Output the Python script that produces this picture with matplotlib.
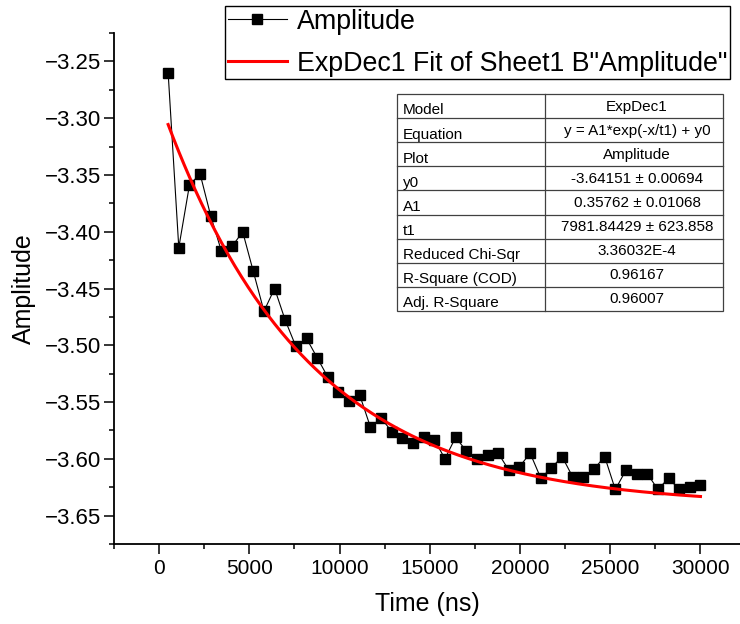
import matplotlib
matplotlib.use("Agg")
import matplotlib.pyplot as plt
import numpy as np
from matplotlib.lines import Line2D

plt.rcParams['font.family'] = ['Liberation Sans', 'DejaVu Sans']

# ---- data ----
time_ns = [500, 1090, 1680, 2270, 2860, 3450, 4040, 4630, 5220, 5810,
           6400, 6990, 7580, 8170, 8760, 9350, 9940, 10530, 11120, 11710,
           12300, 12890, 13480, 14070, 14660, 15250, 15840, 16430, 17020, 17610,
           18200, 18790, 19380, 19970, 20560, 21150, 21740, 22330, 22920, 23510,
           24100, 24690, 25280, 25870, 26460, 27050, 27640, 28230, 28820, 29410,
           30000]
amplitude = [-3.260, -3.414, -3.359, -3.349, -3.386, -3.417, -3.413, -3.400, -3.435, -3.470,
             -3.450, -3.478, -3.501, -3.494, -3.511, -3.528, -3.541, -3.549, -3.544, -3.572,
             -3.564, -3.576, -3.582, -3.586, -3.581, -3.583, -3.600, -3.581, -3.593, -3.600,
             -3.597, -3.595, -3.610, -3.607, -3.595, -3.617, -3.608, -3.598, -3.616, -3.616,
             -3.609, -3.598, -3.627, -3.610, -3.613, -3.613, -3.627, -3.617, -3.627, -3.625,
             -3.623]

# fit parameters (ExpDec1)
y0 = -3.64151
A1 = 0.35762
t1 = 7981.84429
fit_range = (500, 30000)

table_labels = ["Model", "Equation", "Plot", "y0", "A1", "t1",
                "Reduced Chi-Sqr", "R-Square (COD)", "Adj. R-Square"]
table_values = ["ExpDec1", "y = A1*exp(-x/t1) + y0", "Amplitude",
                "-3.64151 \u00b1 0.00694", "0.35762 \u00b1 0.01068",
                "7981.84429 \u00b1 623.858", "3.36032E-4", "0.96167", "0.96007"]

legend_labels = ["Amplitude", 'ExpDec1 Fit of Sheet1 B"Amplitude"']
x_ticks = [0, 5000, 10000, 15000, 20000, 25000, 30000]
y_ticks = [-3.65, -3.60, -3.55, -3.50, -3.45, -3.40, -3.35, -3.30, -3.25]

# ---- figure ----
W, H = 740, 624
fig = plt.figure(figsize=(W / 100, H / 100), dpi=100)
ax_l, ax_r, ax_t, ax_b = 114, 740, 33, 544
ax = fig.add_axes([ax_l / W, 1 - ax_b / H, (ax_r - ax_l) / W, (ax_b - ax_t) / H])

ax.plot(time_ns, amplitude, color='black', lw=0.8, marker='s', ms=7.8,
        mfc='black', mec='black', zorder=3)
xf = np.linspace(fit_range[0], fit_range[1], 400)
yf = A1 * np.exp(-xf / t1) + y0
ax.plot(xf, yf, color='#ff0000', lw=2.2, zorder=4)

ax.set_xlim(-2500, 32190)
ax.set_ylim(-3.6655, -3.225)
ax.set_xticks(x_ticks)
ax.set_yticks(y_ticks)
ax.set_yticklabels([f"{v:.2f}".replace('-', '\u2212') for v in y_ticks])
ax.set_xticks(np.arange(-2500, 32500, 5000), minor=True)
ax.set_yticks(np.arange(-3.675, -3.2, 0.05), minor=True)
ax.tick_params(which='major', direction='out', length=7, width=1.1, labelsize=15, pad=4)
ax.tick_params(axis='y', which='major', labelsize=16, pad=2.5)
ax.tick_params(which='minor', direction='out', length=3.8, width=1.1)
for s in ['top', 'right']:
    ax.spines[s].set_visible(False)
for s in ['left', 'bottom']:
    ax.spines[s].set_linewidth(1.3)

ax.set_xlabel("Time (ns)", fontsize=18, labelpad=10)
ax.set_ylabel("Amplitude", fontsize=18, labelpad=6)

handles = [Line2D([], [], color='black', lw=0.8, marker='s', ms=7.8),
           Line2D([], [], color='#ff0000', lw=2.2)]
leg = fig.legend(handles, legend_labels, loc='upper right',
                 bbox_to_anchor=(730 / W, 1 - 6 / H), fontsize=19.3,
                 frameon=True, fancybox=False, framealpha=1, edgecolor='black',
                 borderpad=0.1, labelspacing=0.6, handlelength=2.2,
                 handletextpad=0.38, borderaxespad=0)
leg.get_frame().set_linewidth(1.0)

# ---- fit-results table (drawn in figure pixel coordinates) ----
tl, tm, tr, tt, tb = 396.7, 545, 723, 94, 311
n = len(table_labels)
rh = (tb - tt) / n
fx = lambda px: px / W
fy = lambda py: 1 - py / H
bg = plt.Rectangle((fx(tl), fy(tb)), fx(tr) - fx(tl), fy(tt) - fy(tb),
                   transform=fig.transFigure, facecolor='white',
                   edgecolor='#404040', lw=0.9, zorder=5)
fig.add_artist(bg)
for i in range(1, n):
    yy = fy(tt + i * rh)
    fig.add_artist(Line2D([fx(tl), fx(tr)], [yy, yy], transform=fig.transFigure,
                          color='#404040', lw=0.9, zorder=6))
fig.add_artist(Line2D([fx(tm), fx(tm)], [fy(tt), fy(tb)], transform=fig.transFigure,
                      color='#404040', lw=0.9, zorder=6))
for i, (lab, val) in enumerate(zip(table_labels, table_values)):
    top = tt + i * rh
    fig.text(fx(tl + 6), fy(top + 20.5), lab, fontsize=11, ha='left',
             va='baseline', zorder=7)
    fig.text(fx((tm + tr) / 2 + 3), fy(top + 16.5), val, fontsize=11,
             ha='center', va='baseline', zorder=7)

fig.savefig("out.png", dpi=100)
